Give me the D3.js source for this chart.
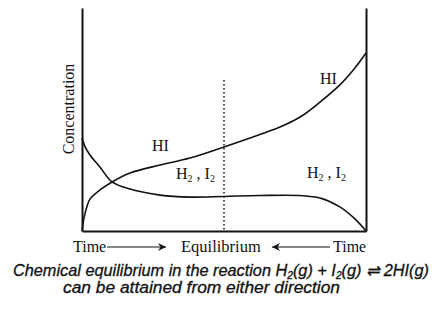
<!DOCTYPE html>
<html lang="en">
<head>
<meta charset="UTF-8">
<title>HI equilibrium</title>
<style>
  body { margin: 0; background: #fff; }
  svg { display: block; }
  .serif { font-family: "Liberation Serif", "Times New Roman", serif; fill: #111; }
  .cap { font-family: "Liberation Sans", Arial, sans-serif; font-style: italic; fill: #111; stroke: #111; stroke-width: 0.3px; }
</style>
</head>
<body>
<script src="https://d3js.org/d3.v7.min.js"></script>
<script>
// time runs 0..10 across the box, concentration 0..100 up the side
const hiTime  = [0, 0.07, 0.18, 0.28, 0.63, 1.06, 1.69, 2.75, 3.80, 5.0, 5.92, 6.97, 7.68, 8.38, 9.08, 9.61, 10];
const hiConc  = [0, 5.8, 11.2, 14.3, 18.4, 22.0, 26.0, 29.6, 32.7, 37.7, 41.7, 46.6, 51.1, 57.8, 65.5, 73.1, 79.8];
const h2Time  = [0, 0.11, 0.28, 0.63, 1.06, 1.69, 2.75, 3.80, 5.0, 6.27, 7.68, 8.38, 9.08, 9.61, 10];
const h2Conc  = [41.7, 37.7, 34.1, 28.7, 22.0, 18.8, 16.1, 15.2, 15.5, 15.9, 15.9, 14.8, 10.8, 5.4, 0];
const eqTime = 5.0;
const eqTop = 67.7;

const width = 434, height = 316;
const svg = d3.select('body').append('svg')
    .attr('width', width).attr('height', height);

const x = d3.scaleLinear().domain([0, 10]).range([82, 366]);
const y = d3.scaleLinear().domain([0, 100]).range([231, 8]);

// frame: left, right and bottom lines, no ticks
svg.append('g').attr('transform', `translate(${x(0)},0)`)
    .call(d3.axisLeft(y).tickValues([]).tickSizeOuter(0))
    .select('.domain').attr('stroke', '#111').attr('stroke-width', 2);
svg.append('g').attr('transform', `translate(${x(10)},0)`)
    .call(d3.axisRight(y).tickValues([]).tickSizeOuter(0))
    .select('.domain').attr('stroke', '#111').attr('stroke-width', 2);
svg.append('g').attr('transform', `translate(0,${y(0)})`)
    .call(d3.axisBottom(x).tickValues([]).tickSizeOuter(0))
    .select('.domain').attr('stroke', '#111').attr('stroke-width', 2);

const line = d3.line()
    .x(d => x(d[0])).y(d => y(d[1]))
    .curve(d3.curveCatmullRom.alpha(0.5));

svg.append('path')
    .datum(d3.zip(hiTime, hiConc))
    .attr('d', line)
    .attr('fill', 'none').attr('stroke', '#111').attr('stroke-width', 1.6);

svg.append('path')
    .datum(d3.zip(h2Time, h2Conc))
    .attr('d', line)
    .attr('fill', 'none').attr('stroke', '#111').attr('stroke-width', 1.6);

// equilibrium marker
svg.append('line')
    .attr('x1', x(eqTime)).attr('x2', x(eqTime))
    .attr('y1', y(eqTop)).attr('y2', y(0))
    .attr('stroke', '#111').attr('stroke-width', 1.5)
    .attr('stroke-dasharray', '1.5,2.5');

// y label
svg.append('text').attr('class', 'serif')
    .attr('transform', 'translate(74,109) rotate(-90)')
    .attr('text-anchor', 'middle')
    .style('font-size', '16px')
    .text('Concentration');

// curve labels
svg.append('text').attr('class', 'serif').attr('x', 152).attr('y', 151)
    .style('font-size', '16px').text('HI');
svg.append('text').attr('class', 'serif').attr('x', 320).attr('y', 84)
    .style('font-size', '16px').text('HI');

function h2i2(px, py) {
  const t = svg.append('text').attr('class', 'serif').attr('x', px).attr('y', py)
      .style('font-size', '16px');
  t.append('tspan').text('H');
  t.append('tspan').attr('dy', 3).style('font-size', '10px').text('2');
  t.append('tspan').attr('dy', -3).text(' , I');
  t.append('tspan').attr('dy', 3).style('font-size', '10px').text('2');
}
h2i2(176, 179);
h2i2(307, 178);

// bottom labels with arrows
svg.append('defs').append('marker')
    .attr('id', 'head').attr('viewBox', '0 0 10 10')
    .attr('refX', 9).attr('refY', 5)
    .attr('markerWidth', 10).attr('markerHeight', 10)
    .attr('markerUnits', 'userSpaceOnUse')
    .attr('orient', 'auto-start-reverse')
    .append('path').attr('d', 'M1,1 L9,5 L1,9 L3.5,5 Z').attr('fill', '#111');

svg.append('text').attr('class', 'serif').attr('x', 73).attr('y', 252)
    .style('font-size', '16px').text('Time');
svg.append('line').attr('x1', 107).attr('x2', 166).attr('y1', 247).attr('y2', 247)
    .attr('stroke', '#111').attr('stroke-width', 1.2).attr('marker-end', 'url(#head)');
svg.append('text').attr('class', 'serif').attr('x', 181).attr('y', 252)
    .style('font-size', '16.5px').text('Equilibrium');
svg.append('line').attr('x1', 272).attr('x2', 330).attr('y1', 247).attr('y2', 247)
    .attr('stroke', '#111').attr('stroke-width', 1.2).attr('marker-start', 'url(#head)');
svg.append('text').attr('class', 'serif').attr('x', 333).attr('y', 252)
    .style('font-size', '16px').text('Time');

// caption
const c1 = svg.append('text').attr('class', 'cap').attr('x', 13).attr('y', 276)
    .attr('textLength', 416).attr('lengthAdjust', 'spacingAndGlyphs')
    .style('font-size', '16px');
c1.append('tspan').text('Chemical equilibrium in the reaction H');
c1.append('tspan').attr('dy', 2.5).style('font-size', '10px').text('2');
c1.append('tspan').attr('dy', -2.5).text('(g) + I');
c1.append('tspan').attr('dy', 2.5).style('font-size', '10px').text('2');
c1.append('tspan').attr('dy', -2.5).text('(g) \u21CC 2HI(g)');

svg.append('text').attr('class', 'cap').attr('x', 63).attr('y', 293)
    .attr('textLength', 277).attr('lengthAdjust', 'spacingAndGlyphs')
    .style('font-size', '16px')
    .text('can be attained from either direction');
</script>
</body>
</html>
